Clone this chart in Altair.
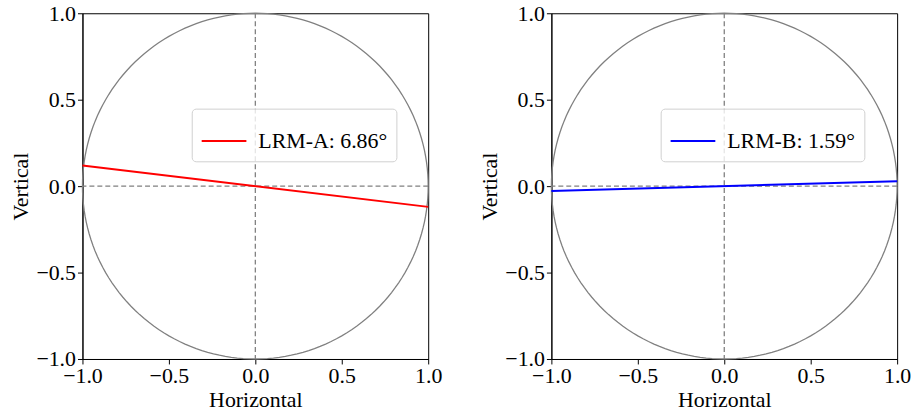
import altair as alt
import pandas as pd
import numpy as np

# unit circle outline (geometric reference shape)
circle_deg = list(range(0, 361, 2))
circle_df = pd.DataFrame({
    "x": np.cos(np.radians(circle_deg)),
    "y": np.sin(np.radians(circle_deg)),
    "o": circle_deg,
})

line_x = [-1.0, 1.0]
lineA_y = [0.120, -0.120]
lineB_y = [-0.028, 0.028]
labelA = "LRM-A: 6.86°"
labelB = "LRM-B: 1.59°"
ticks = [-1.0, -0.5, 0.0, 0.5, 1.0]

W, H = 348, 348
FONT = "Liberation Serif"
FS = 22


def panel(label, ys, color):
    xs = alt.Scale(domain=[-1, 1], nice=False, zero=False)
    ys_ = alt.Scale(domain=[-1, 1], nice=False, zero=False)
    xax = alt.Axis(values=ticks, format=".1f", title="Horizontal")
    yax = alt.Axis(values=ticks, format=".1f", title="Vertical")
    circ = alt.Chart(circle_df).mark_line(color="#808080", strokeWidth=1.3).encode(
        x=alt.X("x:Q", scale=xs, axis=xax),
        y=alt.Y("y:Q", scale=ys_, axis=yax),
        order="o:Q",
    )
    hr = alt.Chart(pd.DataFrame({"v": [0.0]})).mark_rule(
        color="#808080", strokeDash=[5, 3], strokeWidth=1.3
    ).encode(y=alt.Y("v:Q", scale=ys_))
    vr = alt.Chart(pd.DataFrame({"v": [0.0]})).mark_rule(
        color="#808080", strokeDash=[5, 3], strokeWidth=1.3
    ).encode(x=alt.X("v:Q", scale=xs))
    ldf = pd.DataFrame({"x": line_x, "y": ys, "label": [label, label]})
    ln = alt.Chart(ldf).mark_line(strokeWidth=2).encode(
        x=alt.X("x:Q", scale=xs),
        y=alt.Y("y:Q", scale=ys_),
        color=alt.Color(
            "label:N",
            scale=alt.Scale(domain=[label], range=[color]),
            legend=alt.Legend(
                title=None,
                orient="none",
                legendX=110,
                legendY=96,
                fillColor="rgba(255,255,255,0.8)",
                strokeColor="#d0d0d0",
                cornerRadius=4,
                padding=9,
                symbolType="stroke",
                symbolSize=2025,
                symbolStrokeWidth=2,
                labelFont=FONT,
                labelFontSize=FS,
                labelColor="black",
                labelOffset=11,
            ),
        ),
    )
    return alt.layer(circ, hr, vr, ln).properties(width=W, height=H)


chart = (
    alt.hconcat(panel(labelA, lineA_y, "#ff0000"), panel(labelB, lineB_y, "#0000ff"), spacing=35)
    .resolve_scale(color="independent")
    .configure_view(stroke="black", strokeWidth=1)
    .configure_axis(
        grid=False,
        labelFont=FONT,
        labelFontSize=FS,
        labelColor="black",
        titleFont=FONT,
        titleFontSize=FS,
        titleFontWeight="normal",
        titleColor="black",
        domainColor="black",
        tickColor="black",
        tickSize=5,
        labelPadding=2,
        titlePadding=3,
        labelFlush=False,
        labelOverlap=False,
    )
    .properties(background="white", padding={"left": 9, "top": 0, "right": 5, "bottom": 0})
)

chart.save("out.html", embed_options={"renderer": "svg", "actions": False})
